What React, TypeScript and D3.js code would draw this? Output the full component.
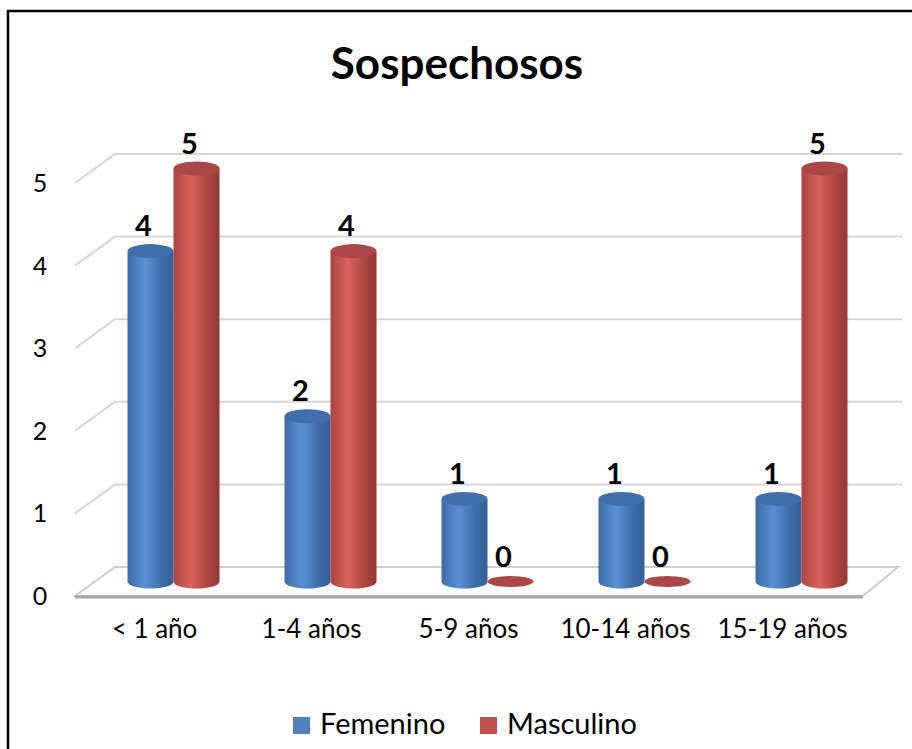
import React, { useEffect, useRef } from 'react';
import * as d3 from 'd3';

// Chart data
const categories = ['< 1 año', '1-4 años', '5-9 años', '10-14 años', '15-19 años'];
const series = ['Femenino', 'Masculino'];
const femenino = [4, 2, 1, 1, 1];
const masculino = [5, 4, 0, 0, 5];
const yTicks = [0, 1, 2, 3, 4, 5];

const W = 912;
const H = 749;
const FONT = 'Lato, "Open Sans", sans-serif';

// 3D depth offset: bars stand at mid depth, back wall is +depth, front edge is -depth
const DEPTH_X = 20;
const DEPTH_Y = 14.5;

const palette = {
  Femenino: { light: '#5b90d4', dark: '#335f98', edge: '#3e6ba6', top: '#416fab', legend: '#4f81bd' },
  Masculino: { light: '#d8625e', dark: '#963835', edge: '#ab4441', top: '#a94846', legend: '#c0504d' },
};

const App = () => {
  const ref = useRef<SVGSVGElement | null>(null);

  useEffect(() => {
    if (!ref.current) return;
    const svg = d3.select(ref.current);
    svg.selectAll('*').remove();

    // Scales (mid-depth plane)
    const x0 = d3.scaleBand().domain(categories).range([95, 880]);
    const x1 = d3.scaleBand().domain(series).range([-46, 46]);
    const y = d3.scaleLinear().domain([0, 5]).range([581.5, 168.5]);

    const defs = svg.append('defs');
    series.forEach((s, i) => {
      const c = palette[s];
      const g = defs.append('linearGradient').attr('id', `cyl-${i}`).attr('x1', 0).attr('x2', 1).attr('y1', 0).attr('y2', 0);
      g.append('stop').attr('offset', '0%').attr('stop-color', c.edge);
      g.append('stop').attr('offset', '38%').attr('stop-color', c.light);
      g.append('stop').attr('offset', '75%').attr('stop-color', c.edge);
      g.append('stop').attr('offset', '100%').attr('stop-color', c.dark);
    });

    // Frame
    svg.append('rect')
      .attr('x', 8).attr('y', 11)
      .attr('width', W + 20).attr('height', H + 20)
      .attr('fill', 'white')
      .attr('stroke', '#000').attr('stroke-width', 2.5);

    // Title
    svg.append('text')
      .attr('x', 457).attr('y', 79)
      .attr('text-anchor', 'middle')
      .style('font-family', FONT)
      .style('font-size', '44px')
      .style('font-weight', 'bold')
      .text('Sospechosos');

    const backLeft = 95 + DEPTH_X;
    const frontLeft = 95 - DEPTH_X;

    // Gridlines on back wall + left side wall
    yTicks.filter(t => t > 0).forEach(t => {
      const yb = y(t) - DEPTH_Y;
      svg.append('polyline')
        .attr('points', `${frontLeft},${yb + 2 * DEPTH_Y} ${backLeft},${yb} 902,${yb}`)
        .attr('fill', 'none')
        .attr('stroke', '#d6d6d6')
        .attr('stroke-width', 2);
    });

    // Floor
    const yBackFloor = y(0) - DEPTH_Y;
    const yFrontFloor = y(0) + DEPTH_Y;
    svg.append('polygon')
      .attr('points', `${frontLeft},${yFrontFloor} ${backLeft},${yBackFloor} 898,${yBackFloor} 863,${yFrontFloor}`)
      .attr('fill', 'white')
      .attr('stroke', '#cfcfcf')
      .attr('stroke-width', 2);
    svg.append('line')
      .attr('x1', frontLeft).attr('x2', 863)
      .attr('y1', yFrontFloor + 1).attr('y2', yFrontFloor + 1)
      .attr('stroke', '#a6a6a6').attr('stroke-width', 3);

    // Y tick labels (front edge)
    svg.selectAll('.ytick')
      .data(yTicks)
      .enter()
      .append('text')
      .attr('x', 40)
      .attr('y', d => y(d) + DEPTH_Y + 9)
      .attr('text-anchor', 'middle')
      .style('font-family', FONT)
      .style('font-size', '25px')
      .text(d => d);

    // X labels (front edge)
    svg.selectAll('.xlabel')
      .data(categories)
      .enter()
      .append('text')
      .attr('x', d => x0(d)! + x0.bandwidth() / 2 - DEPTH_X + 1)
      .attr('y', 638)
      .attr('text-anchor', 'middle')
      .style('font-family', FONT)
      .style('font-size', '26px')
      .text(d => d);

    // Cylinders
    const rx = 23;
    const ry = 7;
    const rows = categories.flatMap((c, ci) => [
      { cat: c, s: 'Femenino', si: 0, v: femenino[ci] },
      { cat: c, s: 'Masculino', si: 1, v: masculino[ci] },
    ]);

    rows.forEach(d => {
      const cx = x0(d.cat)! + x0.bandwidth() / 2 + x1(d.s)! + x1.bandwidth() / 2;
      const yBase = y(0);
      const yTop = y(d.v);
      const c = palette[d.s];
      const g = svg.append('g');
      if (d.v > 0) {
        g.append('path')
          .attr('d', `M${cx - rx},${yTop} L${cx - rx},${yBase} A${rx},${ry} 0 0 0 ${cx + rx},${yBase} L${cx + rx},${yTop} Z`)
          .attr('fill', `url(#cyl-${d.si})`);
        g.append('ellipse')
          .attr('cx', cx).attr('cy', yTop)
          .attr('rx', rx).attr('ry', ry)
          .attr('fill', c.top);
      } else {
        g.append('ellipse')
          .attr('cx', cx).attr('cy', yBase)
          .attr('rx', rx).attr('ry', 5.5)
          .attr('fill', c.top);
      }
      // value label
      svg.append('text')
        .attr('x', cx - 7)
        .attr('y', yTop - 15)
        .attr('text-anchor', 'middle')
        .style('font-family', FONT)
        .style('font-size', '29px')
        .style('font-weight', 'bold')
        .text(d.v);
    });

    // Legend
    const legendItems = [
      { label: 'Femenino', x: 293, color: palette.Femenino.legend },
      { label: 'Masculino', x: 480, color: palette.Masculino.legend },
    ];
    legendItems.forEach(item => {
      svg.append('rect')
        .attr('x', item.x).attr('y', 717)
        .attr('width', 17).attr('height', 17)
        .attr('fill', item.color);
      svg.append('text')
        .attr('x', item.x + 27).attr('y', 734)
        .style('font-family', FONT)
        .style('font-size', '29px')
        .text(item.label);
    });
  }, []);

  return (
    <div style={{ position: 'absolute', left: 0, top: 0, width: W, height: H, overflow: 'hidden' }}>
      <svg ref={ref} width={W} height={H} style={{ display: 'block' }} />
    </div>
  );
};

export default App;
